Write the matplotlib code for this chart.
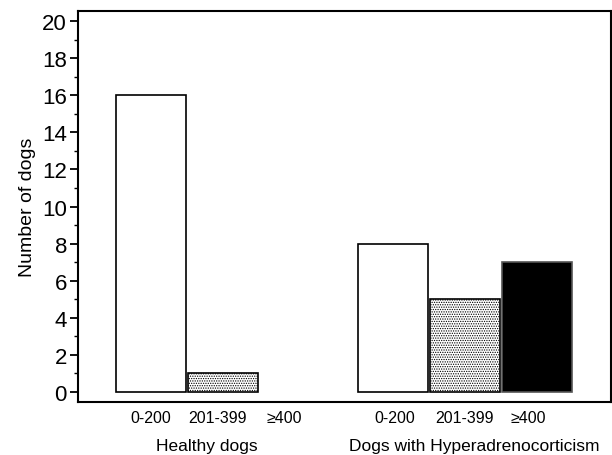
import matplotlib
matplotlib.use('Agg')
import matplotlib.pyplot as plt
from matplotlib.ticker import MultipleLocator

plt.rcParams['font.family'] = ['Liberation Sans', 'DejaVu Sans']
plt.rcParams['hatch.color'] = '#444444'
plt.rcParams['hatch.linewidth'] = 0.6

# data
ranges = ['0-200', '201-399', '\u2265400']
groups = ['Healthy dogs', 'Dogs with Hyperadrenocorticism']
healthy = [16, 1, 0]
hyper = [8, 5, 7]

fig = plt.figure(figsize=(6.12, 4.56), dpi=100)
ax = fig.add_axes([78/612, 1-403/456, (611-78)/612, (403-12)/456])

gap = 3.36
pos_h = [0, 1, 2]
pos_d = [p + gap for p in pos_h]
faces = ['white', 'white', 'black']
hatches = ['', '.......', '']
w = 0.972

for x, v, fc, h in zip(pos_h, healthy, faces, hatches):
    if v > 0:
        ax.bar(x, v, width=w, color=fc, edgecolor='black', linewidth=1.2, hatch=h)
for x, v, fc, h in zip(pos_d, hyper, faces, hatches):
    ax.bar(x, v, width=w, color=fc, edgecolor='black' if fc != 'black' else '#555555',
           linewidth=1.2, hatch=h)

ax.set_xlim(-1.01, 6.39)
ax.set_ylim(-0.55, 20.55)
ax.yaxis.set_major_locator(MultipleLocator(2))
ax.yaxis.set_minor_locator(MultipleLocator(1))
ax.tick_params(axis='y', which='major', direction='out', length=6, width=1.3, labelsize=16, pad=2)
ax.tick_params(axis='y', which='minor', direction='out', length=3, width=1.0)

# category labels sit a bit closer together than the bars in the original
label_pos = [0, 0.93, 1.86, 3.39, 4.35, 5.24]
ax.set_xticks(label_pos)
ax.set_xticklabels(ranges + ranges, fontsize=11.5)
ax.tick_params(axis='x', length=0, pad=6)
ax.set_ylabel('Number of dogs', fontsize=14, labelpad=4)

for s in ax.spines.values():
    s.set_linewidth(1.5)

ax.text(0.78, -0.112, groups[0], transform=ax.get_xaxis_transform(), ha='center', va='center', fontsize=12.5)
ax.text(4.49, -0.112, groups[1], transform=ax.get_xaxis_transform(), ha='center', va='center', fontsize=12.5)

fig.savefig('out.png', dpi=100)
